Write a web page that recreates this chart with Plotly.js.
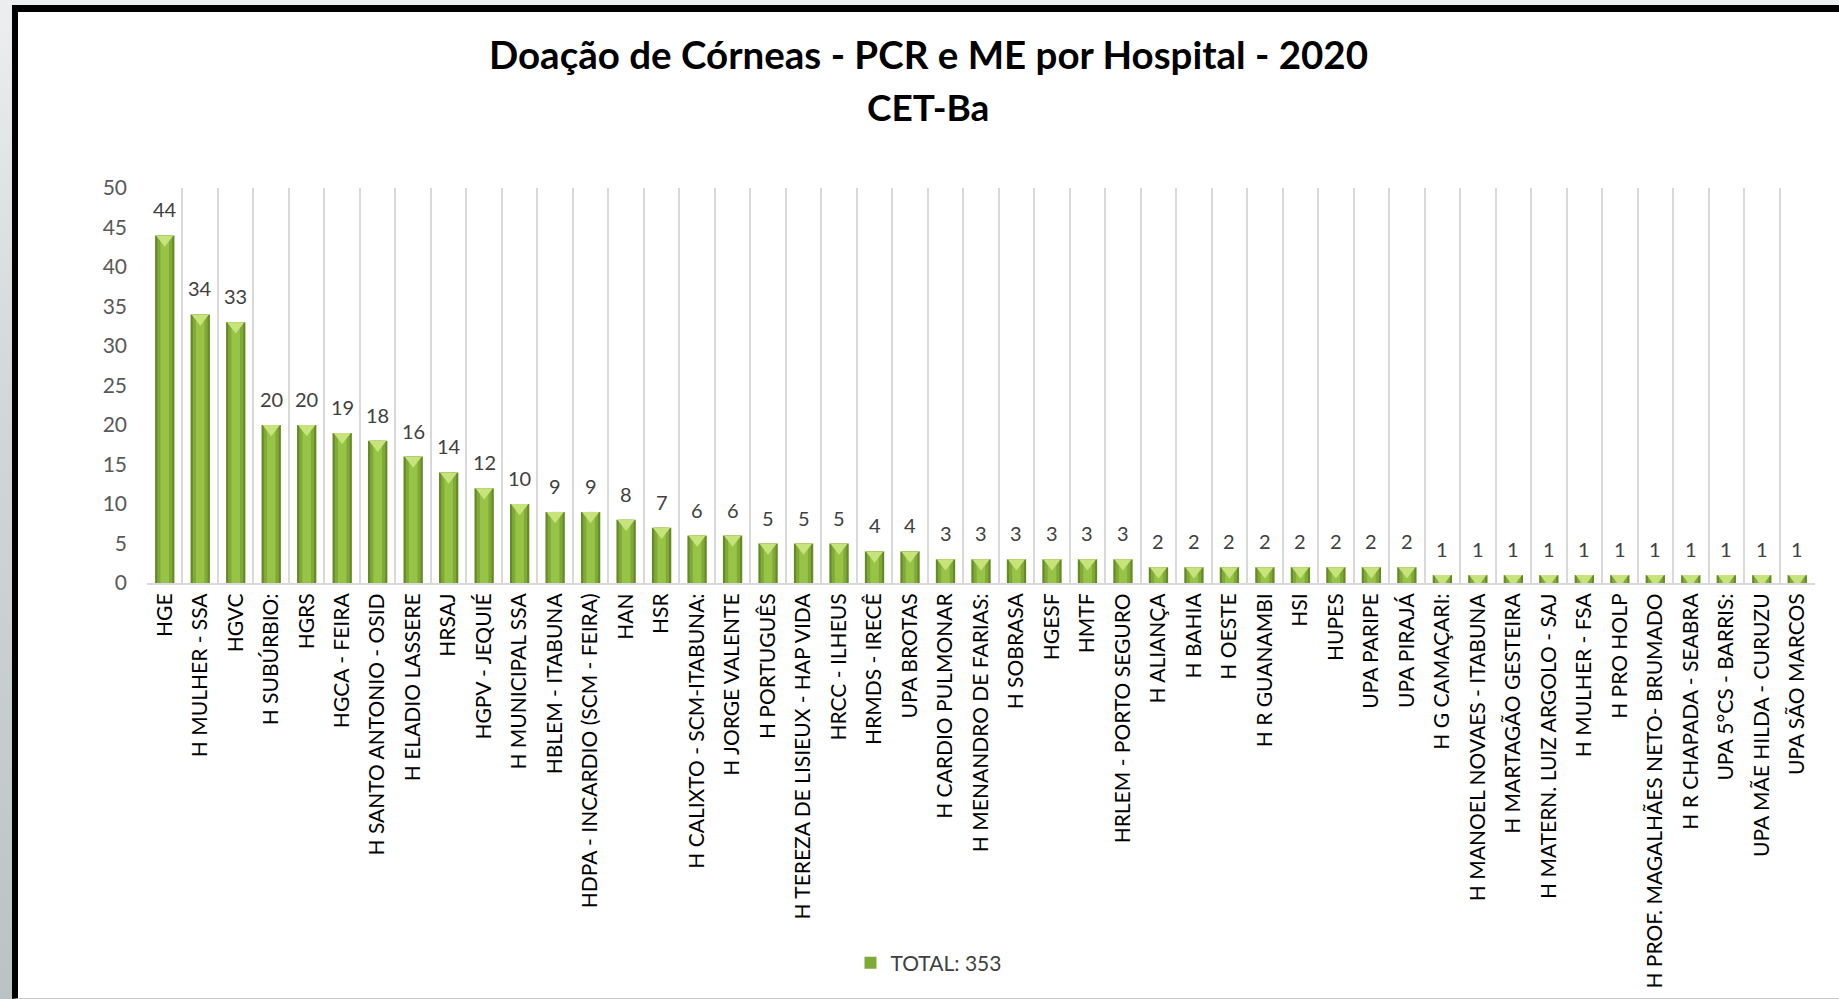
<!DOCTYPE html>
<html>
<head>
<meta charset="utf-8">
<script src="https://cdn.plot.ly/plotly-3.0.1.min.js"></script>
<style>
  html, body { margin: 0; padding: 0; }
  body { width: 1839px; height: 999px; overflow: hidden; position: relative;
         background: linear-gradient(to bottom, #eceeef 0%, #d3d7d9 40%, #bcc2c4 100%); }
  #frame { position: absolute; left: 12px; top: 5px; width: 1827px; height: 994px;
           box-sizing: border-box; border-left: 6px solid #000; border-top: 7px solid #000;
           border-bottom: 1px solid #c8c8c8; background: #fff; }
  #chart { width: 1821px; height: 986px; }
</style>
</head>
<body>
<div id="frame"><div id="chart"></div></div>
<script>
// ---- data ----
const categories = [
  "HGE", "H MULHER - SSA", "HGVC", "H SUBÚRBIO:", "HGRS", "HGCA - FEIRA",
  "H SANTO ANTONIO - OSID", "H ELADIO LASSERE", "HRSAJ", "HGPV - JEQUIÉ",
  "H MUNICIPAL SSA", "HBLEM - ITABUNA", "HDPA - INCARDIO (SCM - FEIRA)", "HAN", "HSR",
  "H CALIXTO - SCM-ITABUNA:", "H JORGE VALENTE", "H PORTUGUÊS", "H TEREZA DE LISIEUX - HAP VIDA",
  "HRCC - ILHEUS", "HRMDS - IRECÊ", "UPA BROTAS", "H CARDIO PULMONAR", "H MENANDRO DE FARIAS:",
  "H SOBRASA", "HGESF", "HMTF", "HRLEM - PORTO SEGURO", "H ALIANÇA", "H BAHIA", "H OESTE",
  "H R GUANAMBI", "HSI", "HUPES", "UPA PARIPE", "UPA PIRAJÁ", "H G CAMAÇARI:",
  "H MANOEL NOVAES - ITABUNA", "H MARTAGÃO GESTEIRA", "H MATERN. LUIZ ARGOLO - SAJ",
  "H MULHER - FSA", "H PRO HOLP", "H PROF. MAGALHÃES NETO- BRUMADO", "H R CHAPADA - SEABRA",
  "UPA 5°CS - BARRIS:", "UPA MÃE HILDA - CURUZU", "UPA SÃO MARCOS"
];
const values = [
  44, 34, 33, 20, 20, 19, 18, 16, 14, 12, 10, 9, 9, 8, 7, 6, 6, 5, 5, 5, 4, 4,
  3, 3, 3, 3, 3, 3, 2, 2, 2, 2, 2, 2, 2, 2, 1, 1, 1, 1, 1, 1, 1, 1, 1, 1, 1
];
const seriesName = "TOTAL: 353";
const yTicks = [0, 5, 10, 15, 20, 25, 30, 35, 40, 45, 50];
const titleLine1 = "Doação de Córneas - PCR e ME por Hospital - 2020";
const titleLine2 = "CET-Ba";

// ---- geometry helpers (layout only) ----
const FONT = "Lato, 'Open Sans', sans-serif";
const plotH = 415;            // plot area height in px
const axisPad = 20;           // px below main axis kept inside plot area
const pxPerUnit = (plotH - axisPad) / 50;
const triShift = 3.75;        // px the bevel triangles sit below the bar top

const baseBar = {
  type: "bar", x: categories, y: values, hoverinfo: "skip",
  xaxis: "x", yaxis: "y", showlegend: false
};
const traces = [
  Object.assign({}, baseBar, { width: 0.545, marker: { color: "#66892a", line: { width: 0 } } }),
  Object.assign({}, baseBar, { width: 0.42, marker: { color: "#80aa36", line: { width: 0 } },
                               name: seriesName, showlegend: true }),
  Object.assign({}, baseBar, { width: 0.24, marker: { color: "#97c447", line: { width: 0 } } }),
  { type: "scatter", mode: "markers", x: categories, y: values, xaxis: "x2", yaxis: "y2",
    hoverinfo: "skip", showlegend: false, cliponaxis: true,
    marker: { symbol: "triangle-down", size: 15, color: "#c6e37c", line: { width: 0 } } }
];

const annotations = categories.map((c, i) => ({
  x: c, y: values[i], xref: "x", yref: "y", text: String(values[i]),
  showarrow: false, yanchor: "bottom", yshift: 12,
  font: { family: FONT, size: 20, color: "#404040" }
}));
annotations.push({
  text: titleLine2, xref: "paper", yref: "paper", x: 0.4682, y: 1.197,
  xanchor: "center", yanchor: "middle", showarrow: false,
  font: { family: FONT, size: 37, color: "#000", weight: "bold" }
});

const layout = {
  width: 1821, height: 986,
  margin: { l: 129, r: 24, t: 176, b: 395, pad: 0 },
  paper_bgcolor: "#ffffff", plot_bgcolor: "rgba(0,0,0,0)",
  barmode: "overlay",
  title: {
    text: titleLine1, x: 0.5, xref: "container", xanchor: "center",
    y: 1 - 44 / 986, yref: "container", yanchor: "middle",
    font: { family: FONT, size: 38.5, color: "#000", weight: "bold" }
  },
  xaxis: {
    type: "category", range: [-0.5, categories.length - 0.5], anchor: "y",
    tickson: "boundaries", showgrid: true, gridcolor: "#d9d9d9", gridwidth: 2,
    showline: true, linecolor: "#d9d9d9", linewidth: 2, ticks: "",
    tickangle: -90, tickfont: { family: FONT, size: 21, color: "#000" },
    fixedrange: true, zeroline: false
  },
  xaxis2: {
    type: "category", range: [-0.5, categories.length - 0.5], anchor: "y2",
    visible: false, showgrid: false, fixedrange: true, categoryorder: "array", categoryarray: categories
  },
  yaxis: {
    domain: [axisPad / plotH, 1], range: [0, 50], tickvals: yTicks,
    showgrid: false, zeroline: false, showline: false, ticks: "",
    ticklabelstandoff: 19,
    tickfont: { family: FONT, size: 21, color: "#595959" }, fixedrange: true
  },
  yaxis2: {
    domain: [axisPad / plotH, 1 - triShift / plotH], range: [triShift / pxPerUnit, 50],
    anchor: "x2", visible: false, showgrid: false, zeroline: false, fixedrange: true
  },
  legend: {
    orientation: "h", xref: "container", x: 0.5, xanchor: "center",
    yref: "container", y: 1 - 951 / 986, yanchor: "middle",
    font: { family: FONT, size: 21, color: "#404040" }, bgcolor: "rgba(0,0,0,0)"
  },
  annotations: annotations,
  showlegend: true
};

Plotly.newPlot("chart", traces, layout, { displayModeBar: false, staticPlot: true });
</script>
</body>
</html>
